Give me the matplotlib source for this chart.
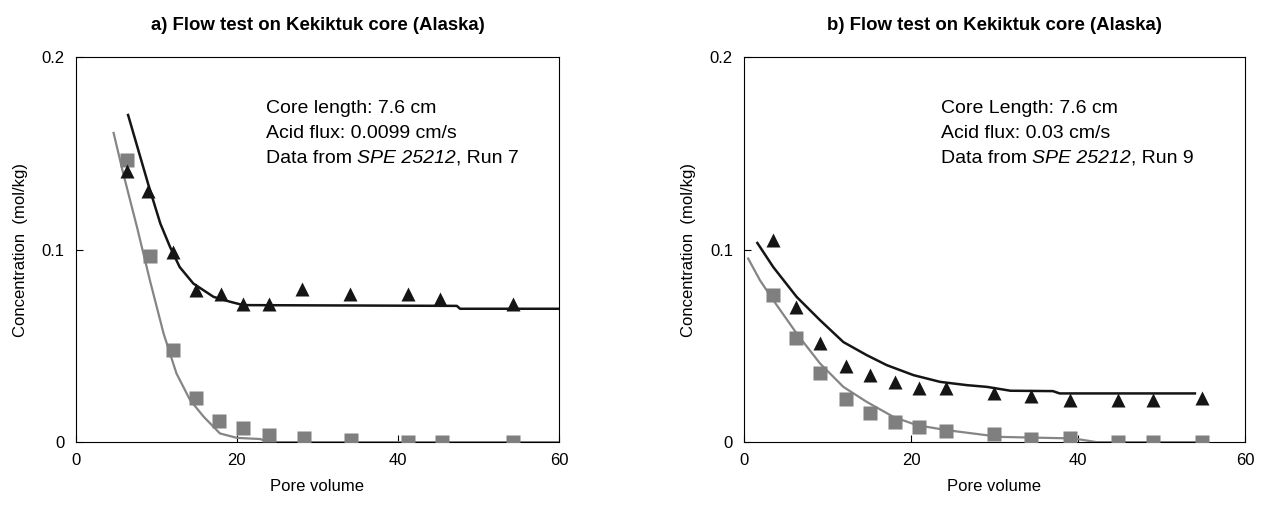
import numpy as np
import matplotlib
matplotlib.use("Agg")
import matplotlib.pyplot as plt

plt.rcParams['font.family'] = ['Liberation Sans', 'DejaVu Sans']

# panel a) measured points
a_tri_x = [6.4, 9.0, 12.1, 14.9, 18.0, 20.7, 24.0, 28.1, 34.0, 41.2, 45.2, 54.3]
a_tri_y = [0.141, 0.1305, 0.099, 0.0793, 0.0769, 0.072, 0.072, 0.0798, 0.0769, 0.0769, 0.0746, 0.072]
a_sq_x = [6.4, 9.2, 12.1, 14.9, 17.8, 20.7, 24.0, 28.3, 34.2, 41.2, 45.4, 54.3]
a_sq_y = [0.1465, 0.0966, 0.0481, 0.0227, 0.0109, 0.0071, 0.0036, 0.0019, 0.001, 0.0, 0.0, 0.0]
# panel a) model curves
a_blk_x = [6.5, 9.0, 10.5, 11.7, 12.9, 14.6, 17.1, 19.2, 20.8, 47.3, 47.7, 60.0]
a_blk_y = [0.170, 0.134, 0.1136, 0.1015, 0.091, 0.0824, 0.0755, 0.0729, 0.0712, 0.0708, 0.0693, 0.0693]
a_gry_x = [4.7, 5.9, 7.6, 9.2, 10.9, 12.5, 14.2, 15.9, 17.9, 20.0, 22.9, 24.0, 60.0]
a_gry_y = [0.1607, 0.1396, 0.1118, 0.0842, 0.0565, 0.0357, 0.0218, 0.0131, 0.0045, 0.0022, 0.0016, 0.0, 0.0]

# panel b) measured points
b_tri_x = [3.5, 6.2, 9.1, 12.2, 15.1, 18.1, 21.0, 24.2, 30.0, 34.4, 39.0, 44.8, 49.0, 54.9]
b_tri_y = [0.105, 0.0703, 0.0513, 0.0395, 0.0348, 0.0313, 0.0279, 0.0279, 0.0253, 0.0239, 0.0218, 0.0218, 0.0218, 0.0227]
b_sq_x = [3.5, 6.2, 9.1, 12.2, 15.1, 18.1, 21.0, 24.2, 30.0, 34.4, 39.0, 44.8, 49.0, 54.9]
b_sq_y = [0.0764, 0.0542, 0.0357, 0.0222, 0.0152, 0.0106, 0.008, 0.0059, 0.004, 0.0014, 0.0019, 0.0, 0.0, 0.0]
# panel b) model curves
b_blk_x = [1.6, 3.5, 6.3, 9.1, 11.9, 14.7, 17.1, 20.3, 23.5, 26.7, 29.1, 31.9, 37.0, 37.8, 54.0]
b_blk_y = [0.1035, 0.091, 0.0755, 0.0634, 0.052, 0.0452, 0.040, 0.0348, 0.0313, 0.0296, 0.0287, 0.0267, 0.0265, 0.0253, 0.0253]
b_gry_x = [0.5, 1.9, 3.5, 6.3, 9.1, 11.9, 14.7, 17.9, 20.7, 24.3, 28.3, 30.7, 39.5, 42.2, 54.0]
b_gry_y = [0.0954, 0.0842, 0.0738, 0.0565, 0.0409, 0.0287, 0.0209, 0.0131, 0.0088, 0.0062, 0.004, 0.0027, 0.0019, 0.0, 0.0]

titles = ["a) Flow test on Kekiktuk core (Alaska)", "b) Flow test on Kekiktuk core (Alaska)"]
line1 = ["Core length: 7.6 cm", "Core Length: 7.6 cm"]
line2 = ["Acid flux: 0.0099 cm/s", "Acid flux: 0.03 cm/s"]
run_txt = [", Run 7", ", Run 9"]

BLK = "#151515"
GRY = "#858585"
SQ = "#7f7f7f"

fig = plt.figure(figsize=(12.79, 5.07), dpi=100)
ax1 = fig.add_axes([0.0592, 0.128, 0.378, 0.759])
ax2 = fig.add_axes([0.5817, 0.128, 0.3917, 0.759])

panels = [
    (ax1, a_tri_x, a_tri_y, a_sq_x, a_sq_y, a_blk_x, a_blk_y, a_gry_x, a_gry_y),
    (ax2, b_tri_x, b_tri_y, b_sq_x, b_sq_y, b_blk_x, b_blk_y, b_gry_x, b_gry_y),
]

fs = 14
for i, (ax, tx, ty, sx, sy, bx, by, gx, gy) in enumerate(panels):
    ax.plot(gx, gy, color=GRY, lw=1.6, zorder=2)
    ax.plot(bx, by, color=BLK, lw=1.8, zorder=2)
    ax.plot(sx, sy, "s", color=SQ, ms=9.5, mec="none", zorder=3)
    ax.plot(tx, ty, "^", color=BLK, ms=10, mec="none", zorder=3)
    ax.set_xlim(0, 60)
    ax.set_ylim(0, 0.2)
    ax.set_xticks([0, 20, 40, 60])
    ax.set_yticks([0, 0.1, 0.2])
    ax.set_yticklabels(["0", "0.1", "0.2"])
    ax.tick_params(direction="in", length=5, labelsize=12, pad=8)
    ax.set_xlabel("Pore volume", fontsize=12, labelpad=8)
    ax.set_ylabel("Concentration  (mol/kg)", fontsize=12, labelpad=10)
    ax.set_title(titles[i], fontsize=13.4, fontweight="bold", pad=20)

    # note block, third line has an italic reference
    ax.text(23.6, 0.1711, line1[i], fontsize=fs, va="baseline")
    ax.text(23.6, 0.1581, line2[i], fontsize=fs, va="baseline")
    t1 = ax.text(23.6, 0.1451, "Data from ", fontsize=fs, va="baseline")
    t2 = ax.annotate("SPE 25212", xy=(1, 0), xycoords=t1, fontsize=fs,
                     style="italic", va="bottom", ha="left")
    ax.annotate(run_txt[i], xy=(1, 0), xycoords=t2, fontsize=fs,
                va="bottom", ha="left")

fig.savefig("out.png", dpi=100)
